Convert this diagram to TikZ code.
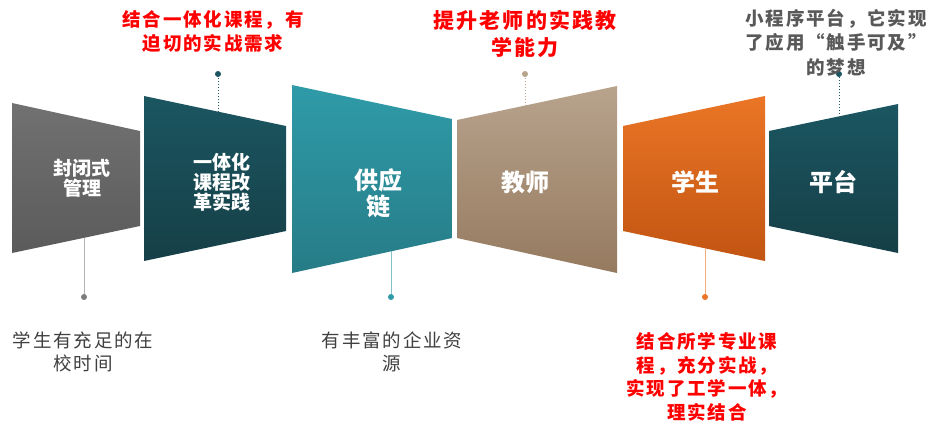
\documentclass[tikz,border=0pt]{standalone}
\usepackage{fontspec}
\setmainfont{Noto Sans CJK SC}
\newfontfamily\cjkls[LetterSpace=10]{Noto Sans CJK SC}
\definecolor{grayT}{HTML}{717171}
\definecolor{grayB}{HTML}{5B5B5B}
\definecolor{dkT}{HTML}{1B5661}
\definecolor{dkB}{HTML}{163F47}
\definecolor{tlT}{HTML}{2F9BA8}
\definecolor{tlB}{HTML}{267C87}
\definecolor{tnT}{HTML}{B8A38D}
\definecolor{tnB}{HTML}{957A5F}
\definecolor{orT}{HTML}{EA7526}
\definecolor{orB}{HTML}{C25512}
\definecolor{notegray}{HTML}{404040}
\definecolor{notegray2}{HTML}{595959}
\begin{document}
\begin{tikzpicture}[x=1pt,y=-1pt,
  paneltxt/.style={text=white,font={\bfseries\fontsize{19}{20}\selectfont},align=center,inner sep=0pt},
  bigtxt/.style={text=white,font={\bfseries\fontsize{24}{26}\selectfont},align=center,inner sep=0pt},
  rednote/.style={text=red,font={\cjkls\bfseries\fontsize{18.5}{23.5}\selectfont},align=center,inner sep=0pt},
  rednotebig/.style={text=red,font={\cjkls\bfseries\fontsize{21}{27}\selectfont},align=center,inner sep=0pt},
  graynote/.style={text=notegray,font={\cjkls\fontsize{18.5}{23}\selectfont},align=center,inner sep=0pt},
  graynotebold/.style={text=notegray2,font={\cjkls\bfseries\fontsize{18.5}{24.5}\selectfont},align=center,inner sep=0pt},
  dot/.style={circle,inner sep=0pt,minimum size=6pt,fill=#1},
  solidlink/.style={draw=#1,line width=1pt},
  dotlink/.style={draw=#1,line width=1pt,dotted}
]
\useasboundingbox (0,0) rectangle (931,421);
\fill[white] (0,0) rectangle (931,421);

% panels
\shade[top color=grayT,bottom color=grayB] (12,103) -- (140,131) -- (140,226) -- (12,253) -- cycle;
\shade[top color=dkT,bottom color=dkB] (144,96) -- (286,126) -- (286,231) -- (144,261) -- cycle;
\shade[top color=tlT,bottom color=tlB] (292,85) -- (452,119) -- (452,238) -- (292,273) -- cycle;
\shade[top color=tnT,bottom color=tnB] (457,120) -- (617,86) -- (617,273) -- (457,238) -- cycle;
\shade[top color=orT,bottom color=orB] (623,126) -- (765,96) -- (765,261) -- (623,231) -- cycle;
\shade[top color=dkT,bottom color=dkB] (769,131) -- (898,104) -- (898,253) -- (769,226) -- cycle;

% panel labels
\node[paneltxt] (t1) at (82,178.5) {封闭式\\管理};
\node[paneltxt] (t2) at (222,182) {一体化\\课程改\\革实践};
\node[bigtxt] (t3) at (378,193) {供应\\链};
\node[bigtxt] (t4) at (525,182) {教师};
\node[bigtxt] (t5) at (695,182) {学生};
\node[bigtxt] (t6) at (833,182) {平台};

% connector anchors on panel edges
\coordinate (e1) at (84,238);
\coordinate (e2) at (218,112);
\coordinate (e3) at (391,251);
\coordinate (e4) at (525,106);
\coordinate (e5) at (705,248);
\coordinate (e6) at (839,114);

% dots
\node[dot=grayB!80] (d1) at (84,297) {};
\node[dot=dkT] (d2) at (218,74) {};
\node[dot=tlT] (d3) at (391,297) {};
\node[dot=tnT] (d4) at (525,74) {};
\node[dot=orT] (d5) at (705,297) {};
\node[dot=dkT] (d6) at (839,74) {};

\draw[solidlink=gray!60] (e1) -- (d1);
\draw[dotlink=dkT] (e2) -- (d2);
\draw[solidlink=tlT!60] (e3) -- (d3);
\draw[dotlink=tnT] (e4) -- (d4);
\draw[solidlink=orT!60] (e5) -- (d5);
\draw[dotlink=dkT] (e6) -- (d6);

% notes
\node[rednote] (n2) at (213,31.5) {结合一体化课程，有\\迫切的实战需求};
\node[rednotebig] (n4) at (525,34) {提升老师的实践教\\学能力};
\node[graynotebold] (n6) at (836,42.5) {小程序平台，它实现\\了应用“触手可及”\\的梦想};
\node[graynote] (n1) at (83,351.5) {学生有充足的在\\校时间};
\node[graynote] (n3) at (392,351.5) {有丰富的企业资\\源};
\node[rednote] (n5) at (707,377) {结合所学专业课\\程，充分实战，\\实现了工学一体，\\理实结合};
\end{tikzpicture}
\end{document}
